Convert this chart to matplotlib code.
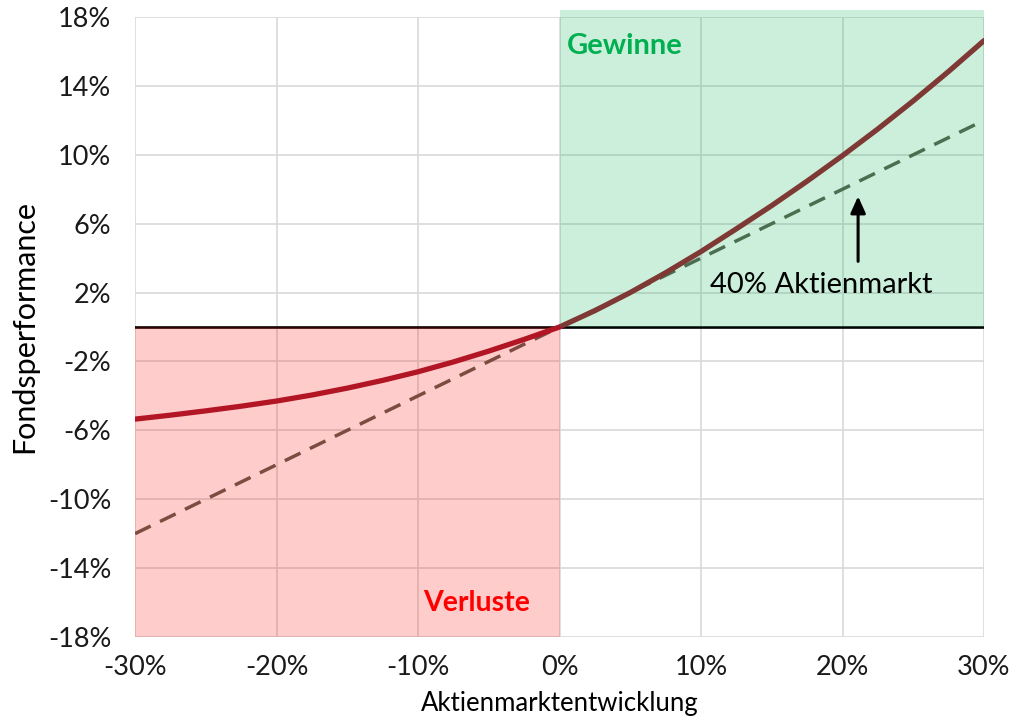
import matplotlib
matplotlib.use("Agg")
import matplotlib.pyplot as plt
from matplotlib.patches import Rectangle

plt.rcParams['font.family'] = ['Lato', 'DejaVu Sans']

# Data (in %)
market = [-30, -27.5, -25, -22.5, -20, -17.5, -15, -12.5, -10, -7.5, -5, -2.5, 0,
          2.5, 5, 7.5, 10, 12.5, 15, 17.5, 20, 22.5, 25, 27.5, 30]
fund = [-5.35, -5.12, -4.87, -4.60, -4.30, -3.95, -3.55, -3.10, -2.60, -2.03, -1.40, -0.72, 0.0,
        0.95, 2.0, 3.15, 4.38, 5.70, 7.05, 8.47, 9.95, 11.5, 13.13, 14.84, 16.63]
stock40_x = [-30, 30]
stock40_y = [-12, 12]

xticks = [-30, -20, -10, 0, 10, 20, 30]
yticks = [-18, -14, -10, -6, -2, 2, 6, 10, 14, 18]

fig = plt.figure(figsize=(10.13, 7.2), dpi=100)
ax = fig.add_axes([0.1333, 0.1153, 0.8381, 0.8611])

ax.set_xlim(-30, 30)
ax.set_ylim(-18, 18)
ax.set_xticks(xticks)
ax.set_yticks(yticks)
ax.set_xticklabels([f"{v}%" for v in xticks], fontsize=19.5, color='#1a1a1a')
ax.set_yticklabels([f"{v}%" for v in yticks], fontsize=19.5, color='#1a1a1a')
ax.tick_params(length=0)
ax.tick_params(axis='x', pad=13)
ax.tick_params(axis='y', pad=17)
for s in ax.spines.values():
    s.set_visible(False)
ax.grid(True, color='#d9d9d9', linewidth=1.2, zorder=0)
ax.set_axisbelow(True)

ax.axhline(0, color='black', linewidth=1.9, zorder=3)
ax.plot(stock40_x, stock40_y, color='#605e50', linewidth=2.5, dashes=(5, 3.0),
        zorder=4, solid_capstyle='butt')
ax.plot(market, fund, color='#9f1c2e', linewidth=3.8, zorder=5,
        solid_capstyle='round', solid_joinstyle='round')

# overlay regions (drawn above lines)
ax.add_patch(Rectangle((0, 0), 30, 18.4, facecolor=(0, 176/255, 80/255), alpha=0.2,
                       edgecolor='none', zorder=6, clip_on=False))
ax.add_patch(Rectangle((-30, -18), 30, 18, facecolor=(1, 0, 0), alpha=0.2,
                       edgecolor='none', zorder=6, clip_on=False))

ax.text(0.5, 16.3, "Gewinne", color='#00b050', fontsize=21, fontweight='bold',
        ha='left', va='center', zorder=8)
ax.text(-5.85, -16.0, "Verluste", color='#ff0000', fontsize=20.5, fontweight='bold',
        ha='center', va='center', zorder=8)
ax.text(18.5, 2.45, "40% Aktienmarkt", color='black', fontsize=21,
        ha='center', va='center', zorder=8)
ax.annotate("", xy=(21.1, 7.75), xytext=(21.1, 3.65),
            arrowprops=dict(arrowstyle='-|>,head_width=0.45,head_length=1.0',
                            color='black', lw=2.2), zorder=8)

ax.set_ylabel("Fondsperformance", fontsize=22, labelpad=7)
ax.set_xlabel("Aktienmarktentwicklung", fontsize=18.5, labelpad=8)

fig.savefig("out.png", dpi=100)
